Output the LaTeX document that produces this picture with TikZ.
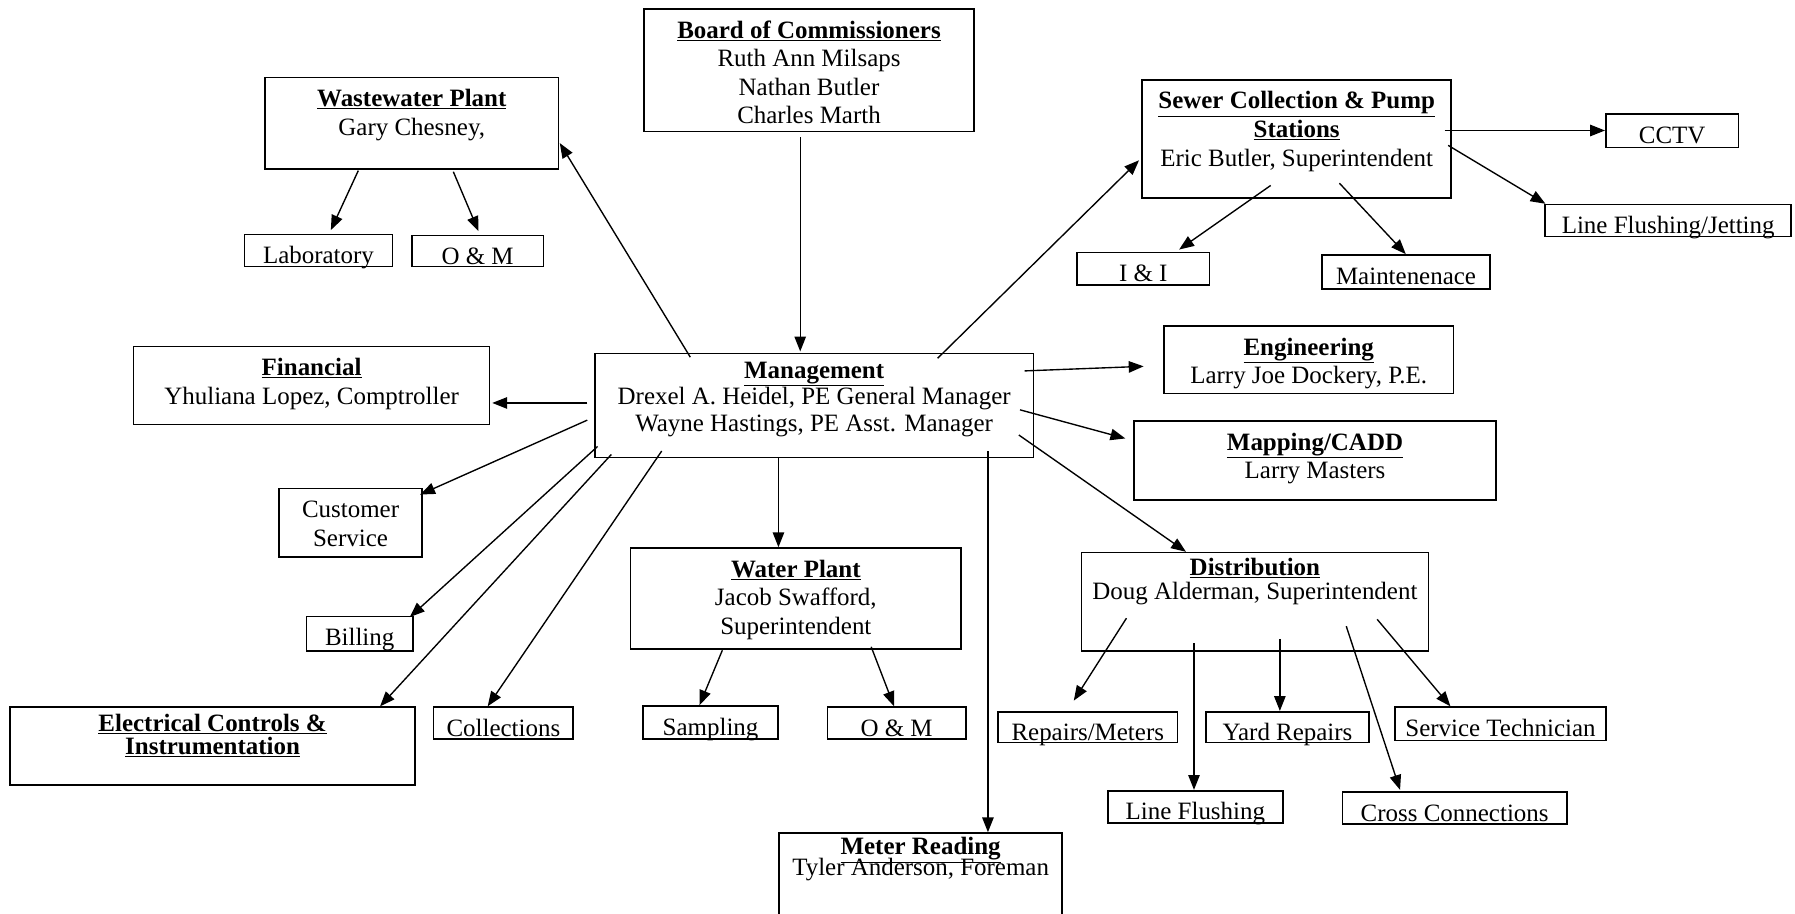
\documentclass[tikz,border=0pt]{standalone}
\usepackage{fontspec}
\setmainfont{Liberation Serif}
\usetikzlibrary{arrows.meta}

\newcommand{\unitbody}[4][8]{\parbox[c][#3pt][t]{#2pt}{\centering\lineskiplimit=-50pt\vspace*{#1pt}\strut #4}}
\newcommand{\unithead}[1]{\textbf{\underline{#1}}}

\tikzset{
  unitbox/.style={draw=black, line width=1.4pt, rectangle, inner sep=0pt, anchor=north west},
  link/.style={line width=1.2pt, -{Triangle[length=13pt,width=10pt]}}
}

\begin{document}
\begin{tikzpicture}[x=1pt, y=-1pt, font=\fontsize{21.8}{25}\selectfont]
\useasboundingbox (0,0) rectangle (1568,798);

% top row
\node[unitbox] (board) at (562,7) {\unitbody{288}{107}{\unithead{Board of Commissioners}\\Ruth Ann Milsaps\\Nathan Butler\\Charles Marth}};
\node[unitbox] (ww) at (231,67) {\unitbody{256}{80}{\unithead{Wastewater Plant}\\Gary Chesney,}};
\node[unitbox] (lab) at (213,204) {\unitbody{129}{28}{Laboratory}};
\node[unitbox] (wwom) at (359,205) {\unitbody{115}{27}{O \& M}};
\node[unitbox] (sewer) at (997,69) {\unitbody{270}{103}{\unithead{Sewer Collection \& Pump}\\\unithead{Stations}\\Eric Butler, Superintendent}};
\node[unitbox] (cctv) at (1402,99) {\unitbody{116}{29}{CCTV}};
\node[unitbox] (jet) at (1349,178) {\unitbody{215}{28}{Line Flushing/Jetting}};
\node[unitbox] (ii) at (940,220) {\unitbody{116}{28}{I \& I}};
\node[unitbox] (maint) at (1154,222) {\unitbody{147}{30}{Maintenenace}};

% middle row
\node[unitbox] (fin) at (116,302) {\unitbody{311}{68}{\unithead{Financial}\\Yhuliana Lopez, Comptroller}};
\node[unitbox] (mgmt) at (519,308) {\unitbody[4.5]{383}{91}{\fontsize{21.8}{23}\selectfont\unithead{Management}\\Drexel A. Heidel, PE General Manager\\Wayne Hastings, PE Asst. Manager}};
\node[unitbox] (eng) at (1016,284) {\unitbody{253}{59}{\unithead{Engineering}\\Larry Joe Dockery, P.E.}};
\node[unitbox] (map) at (990,367) {\unitbody{316}{69}{\unithead{Mapping/CADD}\\Larry Masters}};
\node[unitbox] (cust) at (243,426) {\unitbody{125}{60}{Customer\\Service}};
\node[unitbox] (bill) at (267,538) {\unitbody{93}{30}{Billing}};
\node[unitbox] (wp) at (550,478) {\unitbody{289}{88}{\unithead{Water Plant}\\Jacob Swafford,\\Superintendent}};
\node[unitbox] (dist) at (944,482) {\unitbody[2.5]{303}{86}{\fontsize{21.8}{21}\selectfont\unithead{Distribution}\\Doug Alderman, Superintendent}};

% bottom row
\node[unitbox] (elec) at (8,617) {\unitbody[3.5]{354}{68}{\fontsize{21.8}{20}\selectfont\unithead{Electrical Controls \&}\\\unithead{Instrumentation}}};
\node[unitbox] (coll) at (378,617) {\unitbody{122}{28}{Collections}};
\node[unitbox] (samp) at (561,616) {\unitbody{118}{29}{Sampling}};
\node[unitbox] (wpom) at (722,617) {\unitbody{121}{28}{O \& M}};
\node[unitbox] (rep) at (871,621) {\unitbody{157}{27}{Repairs/Meters}};
\node[unitbox] (yard) at (1053,621) {\unitbody{142}{27}{Yard Repairs}};
\node[unitbox] (tech) at (1218,617) {\unitbody{184}{29}{Service Technician}};
\node[unitbox] (flush) at (967,690) {\unitbody{153}{28}{Line Flushing}};
\node[unitbox] (cross) at (1172,691) {\unitbody{196}{28}{Cross Connections}};
\node[unitbox] (meter) at (680,727) {\unitbody[1.5]{247}{100}{\fontsize{21.8}{18}\selectfont\unithead{Meter Reading}\\Tyler Anderson, Foreman}};

% board and management
\draw[link] ([shift={(137,113)}]board.north west) -- ([shift={(180,-1)}]mgmt.north west);
\draw[link] ([shift={(84,4)}]mgmt.north west) -- ([shift={(258,58)}]ww.north west);
\draw[link] ([shift={(300,5)}]mgmt.north west) -- ([shift={(-2,71)}]sewer.north west);
\draw[link] ([shift={(-6,44)}]mgmt.north west) -- ([shift={(314,50)}]fin.north west);
\draw[link] ([shift={(-6,59)}]mgmt.north west) -- ([shift={(124,6)}]cust.north west);
\draw[link] ([shift={(3,82)}]mgmt.north west) -- ([shift={(91,1)}]bill.north west);
\draw[link] ([shift={(15,89)}]mgmt.north west) -- ([shift={(324,0)}]elec.north west);
\draw[link] ([shift={(59,86)}]mgmt.north west) -- ([shift={(48,0)}]coll.north west);
\draw[link] ([shift={(161,91)}]mgmt.north west) -- ([shift={(130,0)}]wp.north west);
\draw[link] ([shift={(344,86)}]mgmt.north west) -- ([shift={(183,0)}]meter.north west);
\draw[link] ([shift={(376,16)}]mgmt.north west) -- ([shift={(-17,36)}]eng.north west);
\draw[link] ([shift={(372,50)}]mgmt.north west) -- ([shift={(-7,16)}]map.north west);
\draw[link] ([shift={(371,72)}]mgmt.north west) -- ([shift={(92,0)}]dist.north west);

% wastewater and sewer
\draw[link] ([shift={(82,82)}]ww.north west) -- ([shift={(76,-3)}]lab.north west);
\draw[link] ([shift={(165,83)}]ww.north west) -- ([shift={(59,-3)}]wwom.north west);
\draw[link] ([shift={(265,45)}]sewer.north west) -- ([shift={(0,15)}]cctv.north west);
\draw[link] ([shift={(268,58)}]sewer.north west) -- ([shift={(1,0)}]jet.north west);
\draw[link] ([shift={(113,93)}]sewer.north west) -- ([shift={(90,-2)}]ii.north west);
\draw[link] ([shift={(173,91)}]sewer.north west) -- ([shift={(74,0)}]maint.north west);

% water plant and distribution
\draw[link] ([shift={(81,90)}]wp.north west) -- ([shift={(50,0)}]samp.north west);
\draw[link] ([shift={(211,87)}]wp.north west) -- ([shift={(59,0)}]wpom.north west);
\draw[link] ([shift={(40,58)}]dist.north west) -- ([shift={(67,-9)}]rep.north west);
\draw[link] ([shift={(99,80)}]dist.north west) -- ([shift={(76,0)}]flush.north west);
\draw[link] ([shift={(174,76)}]dist.north west) -- ([shift={(65,0)}]yard.north west);
\draw[link] ([shift={(232,65)}]dist.north west) -- ([shift={(51,-1)}]cross.north west);
\draw[link] ([shift={(259,59)}]dist.north west) -- ([shift={(49,0)}]tech.north west);
\end{tikzpicture}
\end{document}
